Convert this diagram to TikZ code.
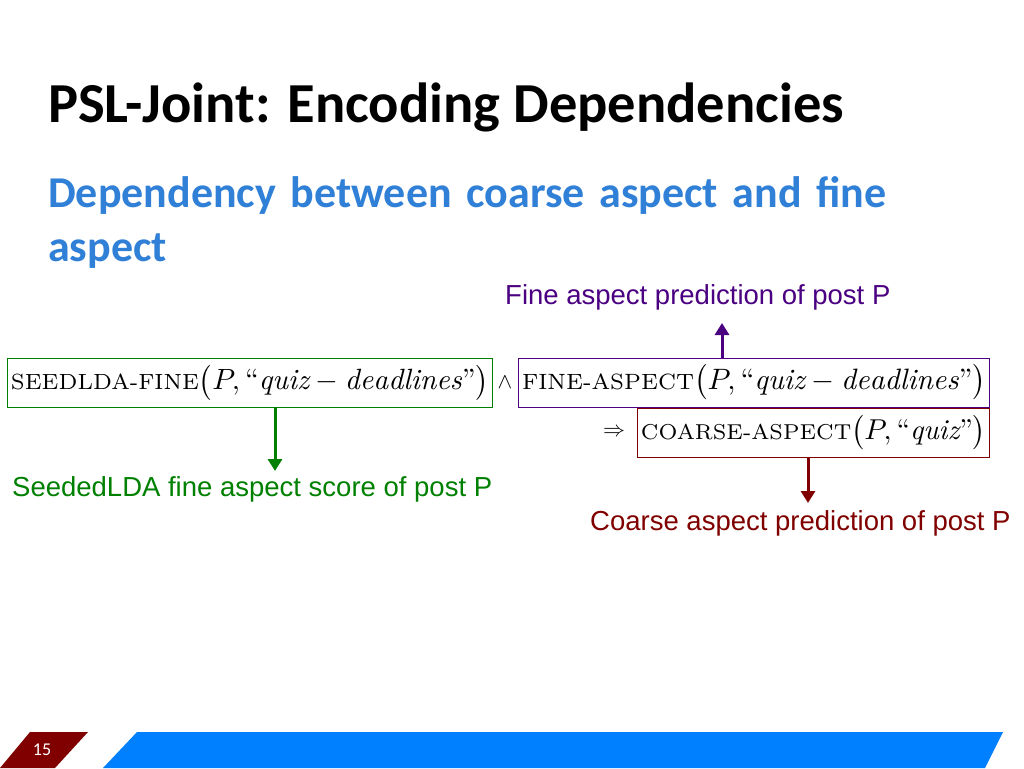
\documentclass[tikz,border=0pt]{standalone}
\usepackage{amsmath}
\usepackage{fontspec}
\setmainfont{Latin Modern Roman}
\newfontfamily\calib{Carlito}
\newfontfamily\arial{Liberation Sans}
\usetikzlibrary{arrows.meta}
\definecolor{sub}{RGB}{47,128,214}
\definecolor{pur}{RGB}{75,0,130}
\definecolor{grn}{RGB}{0,128,0}
\definecolor{drd}{RGB}{128,0,0}
\definecolor{blu}{RGB}{0,128,255}
\newcommand{\mysc}[1]{{\fontsize{7.5}{8}\selectfont #1}}
\begin{document}
\begin{tikzpicture}[x=1pt,y=-1pt,
  fbox/.style={draw,line width=1pt,minimum height=49pt,inner sep=0pt,anchor=west},
  lbl/.style={font=\arial\fontsize{27.5}{30}\selectfont,anchor=west,inner sep=0pt},
  arr/.style={line width=3pt,-{Triangle[length=12pt,width=14pt]}}]
\useasboundingbox (0,0) rectangle (1024,768);
\fill[white] (0,0) rectangle (1024,768);
\node[anchor=west,inner sep=0pt,font=\calib\bfseries\fontsize{56.5}{60}\selectfont] (title) at (48,107) {PSL-Joint: Encoding Dependencies};
\node[anchor=north west,inner sep=0pt,text width=870pt,align=left,text=sub,font=\calib\bfseries\fontsize{44}{54}\selectfont] (subt) at (48,176) {Dependency between coarse aspect and fine aspect};
\node[fbox,draw=grn,minimum width=485pt] (g) at (7,382.5) {};
\node[anchor=center,inner sep=0pt] (gt) at (g.center) {\resizebox{478pt}{!}{\mysc{SEEDLDA-FINE}$\big(P,\text{``}\mathit{quiz}-\mathit{deadlines}\text{''}\big)$}};
\node[inner sep=0pt] (and) at (505,382.5) {\scalebox{2.2}{$\wedge$}};
\node[fbox,draw=pur,minimum width=471pt] (p) at (518,382.5) {};
\node[anchor=center,inner sep=0pt] (pt) at (p.center) {\resizebox{464pt}{!}{\mysc{FINE-ASPECT}$\big(P,\text{``}\mathit{quiz}-\mathit{deadlines}\text{''}\big)$}};
\node[inner sep=0pt] (imp) at (614,432.5) {\scalebox{2.2}{$\Rightarrow$}};
\node[fbox,draw=drd,minimum width=352pt] (r) at (637,432.5) {};
\node[anchor=center,inner sep=0pt] (rt) at (r.center) {\resizebox{345pt}{!}{\mysc{COARSE-ASPECT}$\big(P,\text{``}\mathit{quiz}\text{''}\big)$}};
\node[lbl,text=pur] (pl) at (505,297) {Fine aspect prediction of post P};
\node[lbl,text=grn] (gl) at (12,489) {SeededLDA fine aspect score of post P};
\node[lbl,text=drd] (rl) at (590,523) {Coarse aspect prediction of post P};
\coordinate (pa) at (722,323);
\coordinate (ga) at (275,471);
\coordinate (ra) at (808,503);
\draw[arr,pur] (p.north -| pa) -- (pa);
\draw[arr,grn] (g.south -| ga) -- (ga);
\draw[arr,drd] (r.south -| ra) -- (ra);
\fill[drd] (30,732) -- (88,732) -- (55,768) -- (0,768) -- cycle;
\node[text=white,font=\calib\fontsize{18}{20}\selectfont] (num) at (42,750) {15};
\fill[blu] (137,732) -- (1003,732) -- (985,768) -- (103,768) -- cycle;
\end{tikzpicture}
\end{document}
